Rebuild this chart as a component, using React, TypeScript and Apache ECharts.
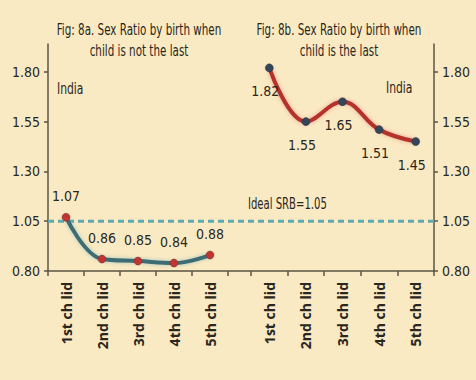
import React, { useEffect, useRef } from "react";
import * as echarts from "echarts";

const categories = ["1st ch lid", "2nd ch lid", "3rd ch lid", "4th ch lid", "5th ch lid"];
const notLastValues = [1.07, 0.86, 0.85, 0.84, 0.88];
const lastValues = [1.82, 1.55, 1.65, 1.51, 1.45];
const idealSRB = 1.05;
const yTicks = [0.8, 1.05, 1.3, 1.55, 1.8];
const titleA = ["Fig: 8a. Sex Ratio by birth when", "child is not the last"];
const titleB = ["Fig: 8b. Sex Ratio by birth when", "child is the last"];

const BG = "#faeac3";
const AXIS = "#5b5444";
const TEXT = "#2a2620";
const NARROW = "'DejaVu Sans Condensed', 'Liberation Sans Narrow', sans-serif";

export default function App() {
  const ref = useRef<HTMLDivElement>(null);
  useEffect(() => {
    document.body.style.margin = "0";
    document.body.style.background = BG;
    const chart = echarts.init(ref.current!, null, { renderer: "svg" });
    const yMin = 0.8;
    const yMax = 1.94;
    const gridTop = 44;
    const gridBottom = 109;
    const hiddenY = (gi: number) => ({
      type: "value",
      gridIndex: gi,
      min: yMin,
      max: yMax,
      show: false,
      splitLine: { show: false },
    });
    const catX = (gi: number) => ({
      type: "category",
      gridIndex: gi,
      data: categories,
      boundaryGap: true,
      axisLine: { show: false },
      axisTick: { show: true, length: 5, lineStyle: { color: AXIS, width: 1.5 } },
      axisLabel: {
        rotate: 90,
        margin: 11,
        fontFamily: "'Open Sans', sans-serif",
        fontWeight: "bold",
        fontSize: 14,
        color: TEXT,
      },
    });
    const visY = (pos: "left" | "right") => ({
      type: "value",
      gridIndex: 2,
      position: pos,
      min: yMin,
      max: yMax,
      splitLine: { show: false },
      axisLine: { show: true, lineStyle: { color: AXIS, width: 1.5 } },
      axisTick: {
        show: true,
        length: 4,
        customValues: yTicks,
        lineStyle: { color: AXIS, width: 1.5 },
      },
      axisLabel: {
        customValues: yTicks,
        formatter: (v: number) => v.toFixed(2),
        fontFamily: NARROW,
        fontSize: 14,
        color: TEXT,
        margin: 8,
      },
    });
    const labelStyle = {
      fontFamily: NARROW,
      fontSize: 14,
      color: TEXT,
      formatter: (p: any) => Number(p.value).toFixed(2),
    };
    const scaledText = (t: string, x: number, y: number, align: string, size: number, sx: number) => ({
      type: "text",
      x,
      y,
      scaleX: sx,
      style: {
        text: t,
        textAlign: align,
        textVerticalAlign: "middle",
        fontFamily: NARROW,
        fontSize: size,
        fill: TEXT,
      },
    });
    const titleText = (lines: string[], cx: number) =>
      lines.map((t, i) => scaledText(t, cx, 29 + i * 21, "center", 16, 0.72));
    chart.setOption({
      animation: false,
      backgroundColor: BG,
      grid: [
        { left: 48, right: 476 - 228, top: gridTop, bottom: gridBottom },
        { left: 251, right: 476 - 434, top: gridTop, bottom: gridBottom },
        { left: 48, right: 476 - 434, top: gridTop, bottom: gridBottom },
      ],
      xAxis: [
        catX(0),
        catX(1),
        {
          type: "value",
          gridIndex: 2,
          min: 0,
          max: 1,
          splitLine: { show: false },
          axisTick: { show: false },
          axisLabel: { show: false },
          axisLine: { show: true, lineStyle: { color: AXIS, width: 1.5 } },
        },
      ],
      yAxis: [hiddenY(0), hiddenY(1), visY("left"), visY("right")],
      series: [
        {
          type: "line",
          xAxisIndex: 2,
          yAxisIndex: 2,
          data: [
            [0, idealSRB],
            [1, idealSRB],
          ],
          symbol: "none",
          silent: true,
          z: 1,
          lineStyle: { color: "#5fa9b0", width: 3, type: [6, 4] },
        },
        {
          type: "line",
          xAxisIndex: 0,
          yAxisIndex: 0,
          data: notLastValues,
          smooth: 0.4,
          z: 3,
          symbol: "circle",
          symbolSize: 8,
          itemStyle: { color: "#c0352f", borderColor: "#7a2a2a", borderWidth: 0.5 },
          lineStyle: {
            color: "#3e6c74",
            width: 4,
            shadowColor: "rgba(90,160,180,0.5)",
            shadowBlur: 4,
          },
          label: { show: true, position: "top", distance: 10, ...labelStyle },
        },
        {
          type: "line",
          xAxisIndex: 1,
          yAxisIndex: 1,
          data: lastValues,
          smooth: 0.4,
          z: 3,
          symbol: "circle",
          symbolSize: 8,
          itemStyle: { color: "#34465a", borderColor: "#22303e", borderWidth: 0.5 },
          lineStyle: {
            color: "#b5322a",
            width: 4,
            shadowColor: "rgba(220,90,90,0.5)",
            shadowBlur: 4,
          },
          label: { show: true, position: "bottom", distance: 12, offset: [-4, 0], ...labelStyle },
        },
      ],
      graphic: [
        ...titleText(titleA, 139),
        ...titleText(titleB, 339),
        scaledText("India", 57, 88, "left", 16, 0.75),
        scaledText("India", 386, 87, "left", 16, 0.75),
        scaledText("Ideal SRB=1.05", 248, 203, "left", 16, 0.7),
      ],
    });
    return () => chart.dispose();
  }, []);
  return (
    <div
      ref={ref}
      style={{ position: "absolute", left: 0, top: 0, width: 476, height: 380, background: BG }}
    />
  );
}
